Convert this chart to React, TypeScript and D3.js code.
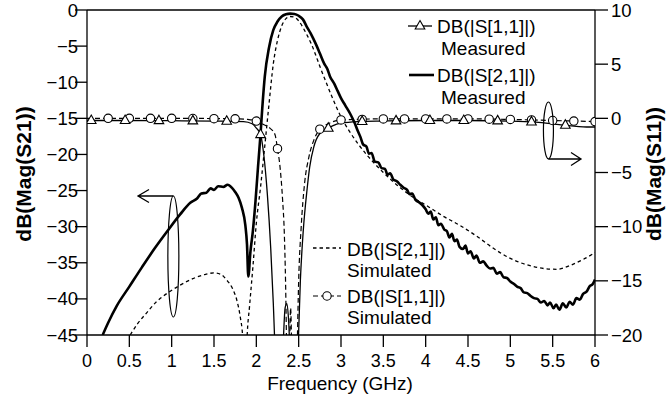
import React from 'react';
import * as d3 from 'd3';

const W = 669;
const H = 403;

const xTicks = [0, 0.5, 1, 1.5, 2, 2.5, 3, 3.5, 4, 4.5, 5, 5.5, 6];
const leftTicks = [0, -5, -10, -15, -20, -25, -30, -35, -40, -45];
const rightTicks = [10, 5, 0, -5, -10, -15, -20];

// DB(|S[2,1]|) measured  [GHz, dB]  (left axis)
const s21Measured: [number, number][] = [
  [0.185, -45], [0.25, -43.3], [0.35, -41.0], [0.5, -38.3], [0.65, -35.6], [0.8, -33.0],
  [0.95, -30.6], [1.1, -28.3], [1.22, -26.7], [1.3, -26.1], [1.35, -25.4], [1.41, -25.3],
  [1.46, -24.7], [1.5, -24.9], [1.55, -24.4], [1.61, -24.5], [1.66, -24.2], [1.71, -24.6],
  [1.75, -25.2], [1.79, -26.0], [1.83, -27.4], [1.87, -29.8], [1.89, -32.5], [1.905, -36.9],
  [1.93, -33.5], [1.96, -30.5], [1.99, -26.5], [2.02, -21.7], [2.05, -17.1], [2.075, -12.8],
  [2.1, -9.2], [2.15, -5.2], [2.2, -2.8], [2.25, -1.6], [2.3, -0.9], [2.35, -0.6], [2.4, -0.5],
  [2.45, -0.55], [2.5, -0.8], [2.55, -1.3], [2.6, -2.4], [2.64, -3.2], [2.67, -3.9],
  [2.71, -4.9], [2.75, -6.0], [2.8, -7.4], [2.84, -8.2], [2.87, -9.2], [2.92, -10.2],
  [2.96, -11.2], [3.0, -12.2], [3.05, -13.2], [3.11, -14.4], [3.16, -15.6], [3.2, -16.8],
  [3.23, -17.6], [3.26, -18.6], [3.3, -18.9], [3.33, -19.9], [3.36, -19.8], [3.4, -21.0],
  [3.44, -21.1], [3.48, -21.9], [3.52, -22.0], [3.55, -22.8], [3.58, -22.6], [3.62, -23.5],
  [3.66, -23.7], [3.7, -24.2], [3.74, -24.6], [3.78, -24.9], [3.81, -25.5], [3.84, -25.4],
  [3.88, -26.3], [3.92, -26.6], [3.96, -27.0], [4.0, -27.6], [4.03, -28.2], [4.06, -27.9],
  [4.09, -29.0], [4.12, -28.7], [4.15, -29.8], [4.18, -29.6], [4.22, -30.4], [4.25, -30.6],
  [4.28, -31.5], [4.31, -31.0], [4.34, -32.0], [4.37, -31.8], [4.4, -32.8], [4.44, -33.1],
  [4.47, -32.6], [4.5, -33.7], [4.53, -33.4], [4.57, -34.4], [4.6, -34.0], [4.64, -35.0],
  [4.68, -34.8], [4.72, -35.4], [4.76, -35.8], [4.8, -35.7], [4.84, -36.5], [4.88, -36.3],
  [4.92, -37.0], [4.96, -37.1], [5.0, -37.6], [5.04, -37.9], [5.08, -38.3], [5.12, -38.5],
  [5.16, -39.1], [5.2, -39.2], [5.24, -39.6], [5.28, -39.9], [5.32, -40.0], [5.36, -40.5],
  [5.4, -40.3], [5.44, -40.9], [5.47, -40.5], [5.51, -41.3], [5.54, -40.8], [5.58, -41.5],
  [5.62, -40.6], [5.66, -41.2], [5.7, -40.4], [5.74, -40.8], [5.78, -39.9], [5.82, -40.1],
  [5.86, -39.3], [5.9, -39.0], [5.94, -38.2], [5.97, -38.0], [6.0, -37.3],
];

// DB(|S[2,1]|) simulated (left axis)
const s21Simulated: [number, number][] = [
  [0.51, -45], [0.6, -43.4], [0.7, -42.0], [0.82, -40.4], [0.95, -39.2], [1.1, -38.1],
  [1.25, -37.2], [1.4, -36.6], [1.5, -36.4], [1.58, -36.6], [1.65, -37.4], [1.72, -38.6],
  [1.77, -40.2], [1.81, -42.5], [1.84, -45.5], [1.865, -55], [1.89, -45.5], [1.92, -41.0],
  [1.96, -35.5], [2.0, -29.5], [2.05, -24.5], [2.1, -18.8], [2.15, -13.0], [2.2, -7.5],
  [2.25, -4.2], [2.3, -2.2], [2.35, -1.2], [2.4, -0.9], [2.45, -1.0], [2.5, -1.5],
  [2.55, -2.4], [2.6, -3.5], [2.65, -4.7], [2.7, -6.2], [2.75, -7.8], [2.8, -9.3],
  [2.9, -12.2], [3.0, -14.8], [3.1, -16.8], [3.2, -18.5], [3.3, -20.0], [3.4, -21.3],
  [3.5, -22.5], [3.6, -23.6], [3.7, -24.6], [3.8, -25.5], [3.9, -26.3], [4.0, -27.0],
  [4.2, -28.5], [4.4, -29.8], [4.6, -31.3], [4.8, -33.0], [5.0, -34.4], [5.2, -35.3],
  [5.4, -35.8], [5.55, -35.9], [5.7, -35.4], [5.85, -34.6], [6.0, -33.6],
];

// DB(|S[1,1]|) measured (right axis)
const s11Measured: [number, number][] = [
  [0, -0.2], [0.5, -0.2], [1.0, -0.22], [1.5, -0.25], [1.85, -0.3], [1.95, -0.5],
  [2.0, -0.9], [2.05, -1.5], [2.09, -3.5], [2.13, -7.0], [2.17, -12.0], [2.2, -17.0],
  [2.23, -23.0], [2.27, -26.0], [2.31, -22.0], [2.34, -17.5], [2.36, -17.1], [2.38, -18.5],
  [2.41, -24.0], [2.45, -27.0], [2.49, -22.0], [2.52, -15.0], [2.555, -10.3], [2.6, -6.5],
  [2.63, -4.5], [2.68, -2.6], [2.75, -1.4], [2.83, -1.0], [2.9, -0.7], [3.0, -0.45],
  [3.2, -0.3], [3.5, -0.25], [4.0, -0.2], [4.5, -0.2], [5.0, -0.25], [5.3, -0.35],
  [5.6, -0.6], [5.9, -0.8], [6.0, -0.8],
];

// DB(|S[1,1]|) simulated (right axis)
const s11Simulated: [number, number][] = [
  [0, 0], [1.0, 0], [1.8, -0.05], [1.9, -0.1], [2.0, -0.25], [2.08, -0.55], [2.16, -0.9],
  [2.22, -1.5], [2.25, -2.8], [2.28, -4.5], [2.31, -7.5], [2.33, -10.5], [2.345, -15.0],
  [2.36, -22.0], [2.38, -26.0], [2.405, -17.5], [2.42, -22.0], [2.45, -28.0], [2.48, -22.0],
  [2.5, -15.0], [2.53, -10.0], [2.57, -6.0], [2.62, -3.6], [2.68, -2.0], [2.75, -1.0],
  [2.85, -0.5], [3.0, -0.15], [3.5, -0.05], [4.5, -0.05], [5.0, -0.1], [5.5, -0.2], [6.0, -0.3],
];

const triangleFreqs = [0.05, 0.45, 0.85, 1.25, 1.65, 2.05, 2.85, 3.25, 3.65, 4.05, 4.45, 4.85, 5.25, 5.65];
const circleFreqs = [0.25, 0.5, 0.75, 1, 1.25, 1.5, 1.75, 2, 2.25, 2.75, 3, 3.25, 3.5, 3.75, 4, 4.25, 4.5, 4.75, 5, 5.25, 5.5, 5.75, 6];

const FONT = "'Liberation Sans', Arial, sans-serif";

function interp(data: [number, number][], f: number): number {
  for (let i = 0; i < data.length - 1; i++) {
    const [f0, v0] = data[i];
    const [f1, v1] = data[i + 1];
    if (f >= f0 && f <= f1) return v0 + ((v1 - v0) * (f - f0)) / (f1 - f0);
  }
  return data[data.length - 1][1];
}

const triPath = 'M0,-5.5 L4.8,3 L-4.8,3 Z';

export default function App() {
  const L = 87, R = 595, T = 10, B = 335;
  const x = d3.scaleLinear().domain([0, 6]).range([L, R]);
  const yL = d3.scaleLinear().domain([-45, 0]).range([B, T]);
  const yR = d3.scaleLinear().domain([-20, 10]).range([B, T]);

  const lineL = d3.line<[number, number]>().x(d => x(d[0])).y(d => yL(d[1])).curve(d3.curveMonotoneX);
  const lineR = d3.line<[number, number]>().x(d => x(d[0])).y(d => yR(d[1])).curve(d3.curveMonotoneX);

  const tickLen = 12;

  // annotation geometry
  const lo = { cx: x(1.02), top: 196, bottom: 317, rx: 5.5 };
  const ro = { cx: x(5.45), top: 102, bottom: 159, rx: 5 };

  return (
    <svg width={W} height={H} style={{ position: 'absolute', left: 0, top: 0, background: '#fff' }}
      fontFamily={FONT}>
      <defs>
        <clipPath id="plot">
          <rect x={L} y={T} width={R - L} height={B - T} />
        </clipPath>
      </defs>
      <rect x={0} y={0} width={W} height={H} fill="#fff" />

      {/* frame */}
      <line x1={L} y1={T} x2={R} y2={T} stroke="#000" strokeWidth={1.3} />
      <line x1={L} y1={T} x2={L} y2={B} stroke="#000" strokeWidth={1.3} />
      <line x1={R} y1={T} x2={R} y2={B} stroke="#000" strokeWidth={1.3} />
      <line x1={L} y1={B} x2={R} y2={B} stroke="#000" strokeWidth={1.3} />

      {/* x ticks */}
      {xTicks.map(t => (
        <g key={'x' + t}>
          <line x1={x(t)} x2={x(t)} y1={B} y2={B + tickLen} stroke="#000" strokeWidth={1.3} />
          <text x={x(t)} y={367} textAnchor="middle" fontSize={18}>{String(t)}</text>
        </g>
      ))}
      {/* left ticks */}
      {leftTicks.map(t => (
        <g key={'l' + t}>
          <line x1={L - tickLen} x2={L} y1={yL(t)} y2={yL(t)} stroke="#000" strokeWidth={1.3} />
          <text x={78} y={yL(t) + 6.5} textAnchor="end" fontSize={18.5}>
            {t < 0 ? '\u2212' + Math.abs(t) : String(t)}
          </text>
        </g>
      ))}
      {/* right ticks */}
      {rightTicks.map(t => (
        <g key={'r' + t}>
          <line x1={R} x2={R + 13} y1={yR(t)} y2={yR(t)} stroke="#000" strokeWidth={1.3} />
          <text x={R + 16} y={yR(t) + 6.5} textAnchor="start" fontSize={18.5}>
            {t < 0 ? '\u2212' + Math.abs(t) : String(t)}
          </text>
        </g>
      ))}

      {/* axis titles */}
      <text x={340} y={390} textAnchor="middle" fontSize={19}>Frequency (GHz)</text>
      <text transform={`translate(31,174) rotate(-90)`} textAnchor="middle" fontSize={21} fontWeight="bold">dB(Mag(S21))</text>
      <text transform={`translate(661,174) rotate(-90)`} textAnchor="middle" fontSize={21} fontWeight="bold">dB(Mag(S11))</text>

      {/* curves */}
      <g clipPath="url(#plot)" fill="none">
        <path d={lineL(s21Simulated) || ''} stroke="#000" strokeWidth={1.3} strokeDasharray="3.5,3" />
        <path d={lineR(s11Simulated) || ''} stroke="#000" strokeWidth={1.2} strokeDasharray="5,3" />
        <path d={lineR(s11Measured) || ''} stroke="#000" strokeWidth={1.3} />
        <path d={lineL(s21Measured) || ''} stroke="#000" strokeWidth={2.6} strokeLinejoin="round" />
        {circleFreqs.map(f => (
          <circle key={'c' + f} cx={x(f)} cy={yR(interp(s11Simulated, f))} r={4.2}
            fill="#fff" stroke="#000" strokeWidth={1.1} />
        ))}
        {triangleFreqs.map(f => (
          <path key={'t' + f} d={triPath}
            transform={`translate(${x(f)},${yR(interp(s11Measured, f))})`}
            fill="#fff" stroke="#000" strokeWidth={1.1} />
        ))}
      </g>

      {/* annotations */}
      <ellipse cx={lo.cx} cy={(lo.top + lo.bottom) / 2} rx={lo.rx} ry={(lo.bottom - lo.top) / 2}
        fill="none" stroke="#000" strokeWidth={1.2} />
      <path d={`M${lo.cx},${lo.top} L138,${lo.top} M149,${lo.top - 6.5} L138,${lo.top} L149,${lo.top + 6.5}`}
        fill="none" stroke="#000" strokeWidth={1.3} />
      <ellipse cx={ro.cx} cy={(ro.top + ro.bottom) / 2} rx={ro.rx} ry={(ro.bottom - ro.top) / 2}
        fill="none" stroke="#000" strokeWidth={1.2} />
      <path d={`M${ro.cx},${ro.bottom} L581,${ro.bottom} M571,${ro.bottom - 6.5} L581,${ro.bottom} L571,${ro.bottom + 6.5}`}
        fill="none" stroke="#000" strokeWidth={1.3} />

      {/* legend top */}
      <line x1={408} x2={432} y1={26} y2={26} stroke="#000" strokeWidth={1.3} />
      <path d={triPath} transform="translate(420,26)" fill="#fff" stroke="#000" strokeWidth={1.1} />
      <text x={437} y={33} fontSize={19}>DB(|S[1,1]|)</text>
      <text x={441} y={55} fontSize={19}>Measured</text>
      <line x1={409} x2={434} y1={75} y2={75} stroke="#000" strokeWidth={2.6} />
      <text x={437} y={82} fontSize={19}>DB(|S[2,1]|)</text>
      <text x={441} y={104} fontSize={19}>Measured</text>

      {/* legend bottom */}
      <line x1={313} x2={341} y1={248} y2={248} stroke="#000" strokeWidth={1.3} strokeDasharray="3.5,3" />
      <text x={347} y={256} fontSize={19}>DB(|S[2,1]|)</text>
      <text x={347} y={277} fontSize={19}>Simulated</text>
      <line x1={313} x2={341} y1={296} y2={296} stroke="#000" strokeWidth={1.2} strokeDasharray="5,3" />
      <circle cx={327} cy={296} r={4.2} fill="#fff" stroke="#000" strokeWidth={1.1} />
      <text x={347} y={303} fontSize={19}>DB(|S[1,1]|)</text>
      <text x={347} y={324} fontSize={19}>Simulated</text>
    </svg>
  );
}
